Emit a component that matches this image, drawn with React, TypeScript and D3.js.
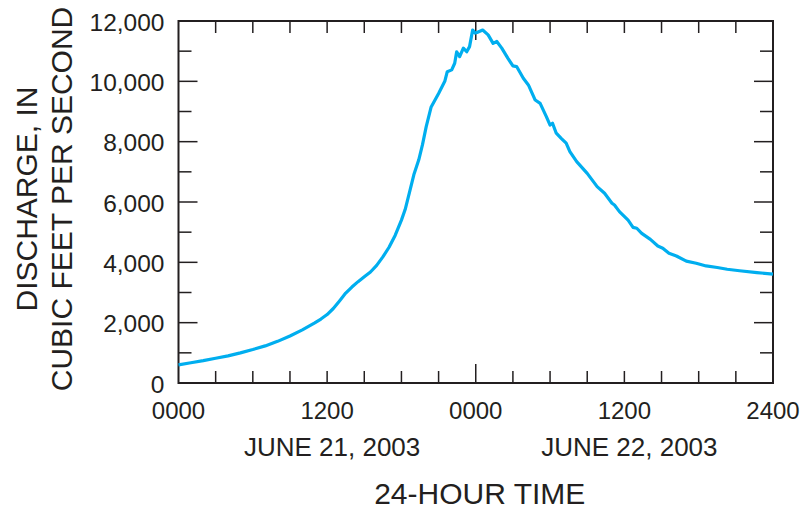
import { useRef, useEffect } from 'react'
import * as d3 from 'd3'

// hours since 0000 June 21, 2003
const hours = [
  0, 1, 2, 3, 4, 5, 6, 7, 8, 9, 10, 11, 11.5, 12, 12.5, 13, 13.5, 14, 14.5, 15, 15.5, 16, 16.5, 17, 17.5, 18,
  18.3, 18.7, 19, 19.4, 19.7, 20, 20.4, 21, 21.5, 21.7, 22.06, 22.3, 22.46, 22.7, 23, 23.27, 23.5, 23.75, 23.94,
  24.1, 24.56, 25, 25.4, 25.7, 26.1, 26.6, 27, 27.3, 27.84, 28.25, 28.8, 29.2, 29.7, 30, 30.2, 30.5, 30.9, 31.3,
  31.6, 32.15, 33, 33.8, 34.4, 35, 35.2, 35.6, 36.3, 36.7, 37, 37.4, 38.1, 38.7, 39.1, 39.6, 40.2, 41, 41.8, 42.6,
  43.5, 44.3, 45.3, 46.7, 48,
]
const discharge = [
  600, 670, 740, 820, 900, 1000, 1110, 1230, 1380, 1560, 1760, 1990, 2120, 2270, 2470, 2720, 2980, 3180, 3360,
  3520, 3680, 3900, 4180, 4500, 4900, 5400, 5750, 6400, 6900, 7400, 7900, 8500, 9150, 9600, 10000, 10320, 10380,
  10600, 10980, 10820, 11100, 10980, 11150, 11700, 11600, 11620, 11700, 11540, 11260, 11320, 11100, 10760, 10510,
  10490, 10100, 9880, 9380, 9270, 8830, 8550, 8610, 8280, 8110, 7950, 7670, 7340, 6950, 6510, 6290, 5960, 5900,
  5680, 5400, 5160, 5130, 4960, 4760, 4540, 4470, 4300, 4210, 4040, 3970, 3880, 3830, 3770, 3720, 3660, 3610,
]

const xTickHours = [0, 12, 24, 36, 48]
const xTickLabels = ['0000', '1200', '0000', '1200', '2400']
const dateLabels = ['JUNE 21, 2003', 'JUNE 22, 2003']
const dateHours = [12, 36]
const yTicks = [0, 2000, 4000, 6000, 8000, 10000, 12000]

export default function App() {
  const svgRef = useRef<SVGSVGElement>(null)

  useEffect(() => {
    if (!svgRef.current) return
    const svg = d3.select(svgRef.current)
    svg.selectAll('*').remove()

    const W = 806
    const H = 508
    const margin = { top: 21, right: 33, bottom: 125, left: 178.5 }
    const width = W - margin.left - margin.right
    const height = H - margin.top - margin.bottom
    const font = 'Liberation Sans, Arial, Helvetica, sans-serif'
    const ink = '#231f20'

    svg.attr('width', W).attr('height', H)
    const g = svg.append('g').attr('transform', `translate(${margin.left},${margin.top})`)

    const x = d3.scaleLinear().domain([0, 48]).range([0, width])
    const y = d3.scaleLinear().domain([0, 12000]).range([height, 0])

    // inner ticks, x every 3 hours, midnight longer
    const minorX = d3.range(3, 48, 3)
    minorX.forEach((h) => {
      const len = h === 24 ? 19 : 12
      g.append('line').attr('x1', x(h)).attr('x2', x(h)).attr('y1', height).attr('y2', height - len)
        .attr('stroke', ink).attr('stroke-width', 1.5)
      g.append('line').attr('x1', x(h)).attr('x2', x(h)).attr('y1', 0).attr('y2', len)
        .attr('stroke', ink).attr('stroke-width', 1.5)
    })

    // y ticks every 1000, labelled every 2000 are longer
    d3.range(1000, 12000, 1000).forEach((v) => {
      const len = v % 2000 === 0 ? 19 : 13
      g.append('line').attr('x1', 0).attr('x2', len).attr('y1', y(v)).attr('y2', y(v))
        .attr('stroke', ink).attr('stroke-width', 1.5)
      g.append('line').attr('x1', width).attr('x2', width - len).attr('y1', y(v)).attr('y2', y(v))
        .attr('stroke', ink).attr('stroke-width', 1.5)
    })

    // frame
    g.append('rect').attr('width', width).attr('height', height)
      .attr('fill', 'none').attr('stroke', ink).attr('stroke-width', 2)

    // line
    const pts = hours.map((h, i) => [h, discharge[i]] as [number, number])
    const line = d3.line<[number, number]>().x((d) => x(d[0])).y((d) => y(d[1]))
    g.append('path').datum(pts).attr('fill', 'none').attr('stroke', '#00aeef')
      .attr('stroke-width', 3.2).attr('stroke-linejoin', 'round').attr('d', line)

    // y labels
    const fmt = d3.format(',')
    g.selectAll('.ylab').data(yTicks).join('text')
      .attr('x', -14).attr('y', (d) => y(d) + 1)
      .attr('text-anchor', 'end').attr('dominant-baseline', 'central')
      .attr('font-family', font).attr('font-size', 24.5).attr('fill', ink)
      .text((d) => fmt(d))

    // x labels
    g.selectAll('.xlab').data(xTickHours).join('text')
      .attr('x', (d) => x(d)).attr('y', height + 27)
      .attr('text-anchor', 'middle').attr('dominant-baseline', 'central')
      .attr('font-family', font).attr('font-size', 24).attr('fill', ink)
      .text((_, i) => xTickLabels[i])

    g.selectAll('.dlab').data(dateHours).join('text')
      .attr('x', (d) => x(d) + 5).attr('y', height + 64)
      .attr('text-anchor', 'middle').attr('dominant-baseline', 'central')
      .attr('font-family', font).attr('font-size', 26).attr('fill', ink)
      .text((_, i) => dateLabels[i])

    g.append('text').attr('x', width / 2 + 4).attr('y', height + 110)
      .attr('text-anchor', 'middle').attr('dominant-baseline', 'central')
      .attr('font-family', font).attr('font-size', 30).attr('fill', ink)
      .text('24-HOUR TIME')

    // y axis title, two lines
    const title = svg.append('text').attr('transform', `translate(37,199) rotate(-90)`)
      .attr('text-anchor', 'middle').attr('font-family', font).attr('font-size', 30).attr('fill', ink)
    title.append('tspan').attr('x', 0).attr('y', 0).text('DISCHARGE, IN')
    title.append('tspan').attr('x', 0).attr('y', 35).text('CUBIC FEET PER SECOND')
  }, [])

  return <svg ref={svgRef} style={{ position: 'absolute', left: 0, top: 0 }} />
}
